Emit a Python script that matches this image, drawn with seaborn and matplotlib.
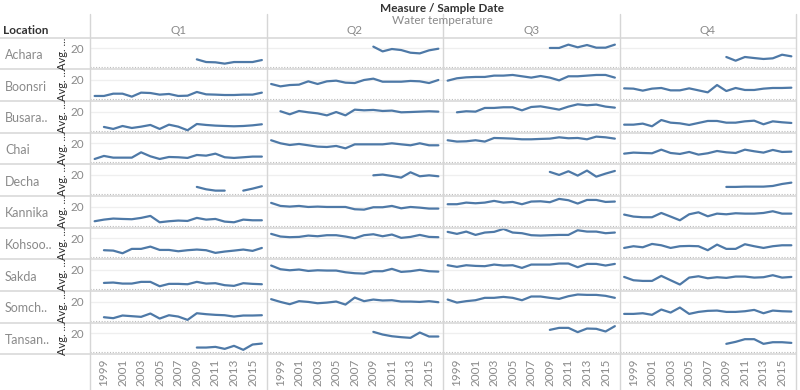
import numpy as np
import pandas as pd
import matplotlib
matplotlib.use("Agg")
import matplotlib.pyplot as plt
from matplotlib.lines import Line2D
import seaborn as sns

# ---------------- data ----------------
YEARS = list(range(1998, 2017))
LOCATIONS = ["Achara", "Boonsri", "Busara..", "Chai", "Decha",
             "Kannika", "Kohsoo..", "Sakda", "Somch..", "Tansan.."]
QUARTERS = ["Q1", "Q2", "Q3", "Q4"]
YEAR_TICKS = [1999, 2001, 2003, 2005, 2007, 2009, 2011, 2013, 2015]
N = None

q1_values = {
    "Achara":   [N]*11 + [8.4, 5.6, 5.3, 3.9, 5.6, 5.6, 5.6, 7.7],
    "Boonsri":  [3.2, 3.2, 5.6, 5.6, 2.5, 6.7, 6.3, 4.6, 5.3, 3.2, 3.5, 7.4, 4.9, 4.6, 4.2, 4.2, 4.6, 4.6, 6.7],
    "Busara..": [N, 3.9, 1.8, 4.9, 2.8, 4.2, 6.0, 1.8, 6.3, 4.2, 0.4, 7.0, 6.0, 5.3, 4.9, 4.6, 4.9, 5.6, 6.7],
    "Chai":     [3.5, 6.7, 4.9, 4.9, 4.9, 10.5, 6.3, 3.5, 5.6, 5.3, 4.6, 7.7, 7.0, 9.1, 5.3, 4.6, 5.3, 6.0, 6.0],
    "Decha":    [N]*11 + [7.4, 4.9, 3.5, 3.5, N, 3.5, 5.6, 8.1],
    "Kannika":  [4.6, 6.3, 7.4, 7.0, 6.7, 8.1, 10.2, 3.5, 4.6, 5.3, 4.9, 8.1, 6.3, 7.0, 4.2, 3.5, 6.3, 5.6, 5.6],
    "Kohsoo..": [N, 7.4, 7.0, 4.2, 8.8, 8.8, 11.2, 7.7, 7.7, 6.3, 7.4, 8.1, 7.4, 4.6, 6.0, 7.0, 8.1, 6.7, 9.8],
    "Sakda":    [N, 6.3, 6.7, 5.6, 5.6, 7.4, 7.4, 2.8, 5.3, 5.3, 4.9, 7.4, 5.6, 6.0, 3.9, 3.2, 6.0, 5.3, 4.9],
    "Somch..":  [N, 3.5, 2.5, 5.3, 4.6, 3.9, 7.4, 2.1, 5.6, 4.2, 0.7, 7.7, 6.7, 6.0, 5.6, 4.2, 5.3, 5.3, 5.6],
    "Tansan..": [N]*11 + [4.9, 4.9, 5.6, 3.5, 6.7, 2.5, 8.1, 9.1],
}
q2_values = {
    "Achara":   [N]*11 + [21.8, 16.8, 19.3, 18.2, 15.4, 14.7, 17.9, 19.6],
    "Boonsri":  [15.8, 13.3, 14.7, 15.1, 18.6, 15.8, 18.6, 19.3, 17.2, 16.8, 20.0, 21.4, 18.2, 18.2, 18.2, 19.0, 18.6, 16.8, 20.0],
    "Busara..": [N, 20.4, 17.2, 20.7, 19.3, 18.2, 16.1, 19.6, 16.1, 22.1, 21.4, 21.8, 20.7, 21.1, 19.3, 19.6, 20.0, 20.4, 20.0],
    "Chai":     [23.2, 20.0, 18.2, 19.3, 17.9, 16.5, 16.1, 17.2, 14.7, 18.9, 18.9, 18.9, 18.9, 20.0, 18.9, 17.9, 20.0, 17.9, 17.9],
    "Decha":    [N]*11 + [19.6, 20.4, 18.9, 17.2, 22.8, 18.6, 19.6, 18.6],
    "Kannika":  [23.9, 20.7, 20.0, 20.7, 19.6, 20.0, 19.6, 19.6, 19.6, 17.2, 16.8, 19.3, 19.3, 20.7, 18.2, 19.6, 18.9, 17.9, 17.9],
    "Kohsoo..": [24.6, 21.8, 21.1, 21.4, 22.8, 22.1, 23.2, 23.2, 21.8, 20.0, 23.2, 24.2, 22.1, 23.9, 20.4, 21.4, 23.5, 21.4, 21.1],
    "Sakda":    [24.6, 20.7, 19.6, 20.4, 18.9, 19.6, 19.3, 19.3, 17.5, 16.5, 16.1, 18.6, 18.6, 21.1, 17.9, 18.6, 20.0, 18.6, 18.2],
    "Somch..":  [22.5, 19.6, 17.2, 20.4, 19.6, 18.2, 18.9, 20.0, 16.8, 24.2, 20.4, 22.1, 21.1, 21.4, 20.0, 20.0, 19.6, 20.4, 19.3],
    "Tansan..": [N]*11 + [21.4, 18.6, 16.8, 15.8, 15.1, 20.7, 16.5, 16.5],
}
q3_values = {
    "Achara":   [N]*11 + [20.4, 20.4, 23.9, 21.1, 23.5, 20.7, 20.7, 23.9],
    "Boonsri":  [19.3, 21.8, 22.8, 23.2, 23.2, 24.6, 24.6, 25.3, 23.9, 22.5, 24.2, 22.5, 19.6, 23.9, 23.9, 24.6, 25.3, 25.3, 22.5],
    "Busara..": [N, 19.3, 20.4, 20.0, 23.9, 23.9, 24.6, 24.6, 21.4, 24.9, 25.6, 23.9, 22.1, 25.3, 27.7, 26.7, 27.4, 25.3, 24.2],
    "Chai":     [23.2, 21.8, 22.1, 23.2, 21.8, 25.6, 25.3, 24.9, 24.2, 24.2, 24.6, 24.9, 26.3, 25.3, 25.6, 24.2, 27.0, 26.3, 24.9],
    "Decha":    [N]*11 + [23.2, 20.0, 23.9, 19.3, 24.6, 18.2, 21.4, 24.2],
    "Kannika":  [22.5, 22.5, 24.2, 23.5, 24.2, 26.0, 24.2, 24.9, 22.5, 25.3, 25.6, 24.6, 28.1, 26.7, 23.2, 27.0, 27.0, 24.9, 25.3],
    "Kohsoo..": [26.7, 24.6, 27.0, 23.5, 26.0, 26.7, 29.8, 26.0, 25.3, 23.2, 22.8, 23.2, 23.5, 23.5, 28.4, 27.0, 27.0, 25.3, 26.0],
    "Sakda":    [24.9, 23.2, 24.9, 24.2, 23.9, 25.6, 24.6, 24.9, 22.1, 25.6, 25.6, 25.6, 26.7, 26.7, 22.8, 26.3, 26.3, 24.6, 26.3],
    "Somch..":  [22.1, 18.9, 20.4, 21.4, 23.9, 23.9, 24.9, 23.9, 21.4, 25.3, 25.3, 23.9, 22.8, 25.6, 27.4, 27.0, 27.0, 26.0, 23.9],
    "Tansan..": [N]*11 + [23.5, 25.6, 25.6, 21.1, 24.9, 24.6, 21.8, 27.4],
}
q4_values = {
    "Achara":   [N]*11 + [10.9, 7.0, 10.9, 9.8, 8.8, 9.5, 13.3, 11.6],
    "Boonsri":  [11.2, 10.9, 8.8, 10.9, 11.6, 9.1, 9.1, 11.2, 9.1, 7.0, 14.7, 8.4, 11.6, 9.5, 9.5, 10.9, 11.6, 11.6, 11.9],
    "Busara..": [6.3, 6.3, 7.4, 4.6, 11.2, 8.4, 7.7, 6.0, 8.1, 10.2, 10.2, 8.4, 8.4, 9.8, 10.5, 6.7, 9.8, 8.8, 8.1],
    "Chai":     [9.1, 10.2, 9.8, 9.5, 13.3, 9.8, 8.8, 10.9, 8.1, 9.5, 11.9, 10.5, 9.8, 13.3, 11.6, 10.2, 13.0, 10.9, 11.2],
    "Decha":    [N]*11 + [7.4, 7.4, 7.7, 7.7, 7.7, 8.4, 10.5, 11.9],
    "Kannika":  [11.6, 9.5, 8.8, 8.8, 13.3, 9.5, 5.6, 11.9, 14.0, 9.8, 12.6, 11.9, 13.0, 12.6, 12.6, 13.3, 15.1, 12.6, 12.6],
    "Kohsoo..": [9.8, 11.6, 10.5, 14.0, 12.6, 9.8, 11.6, 11.9, 11.6, 7.4, 13.3, 8.8, 8.8, 13.7, 11.6, 9.8, 11.6, 12.6, 12.6],
    "Sakda":    [12.6, 9.1, 8.4, 8.4, 13.7, 9.1, 4.6, 11.9, 13.3, 11.2, 12.3, 11.6, 13.0, 13.0, 11.9, 12.3, 14.4, 11.9, 12.6],
    "Somch..":  [7.0, 7.0, 7.7, 6.0, 11.6, 8.4, 13.7, 7.0, 9.1, 10.2, 10.5, 9.1, 9.1, 9.8, 11.2, 7.7, 10.5, 9.8, 9.5],
    "Tansan..": [N]*11 + [8.8, 10.9, 13.7, 13.7, 8.8, 10.5, 10.5, 9.8],
}
QUARTER_DATA = {"Q1": q1_values, "Q2": q2_values, "Q3": q3_values, "Q4": q4_values}

# long table; segments split at missing values so gaps stay open
records = []
for q in QUARTERS:
    for loc in LOCATIONS:
        seg = 0
        for yr, v in zip(YEARS, QUARTER_DATA[q][loc]):
            if v is None:
                seg += 1
                continue
            records.append({"Quarter": q, "Location": loc, "Year": yr,
                            "Temp": v, "Seg": seg})
df = pd.DataFrame(records)

# ---------------- style ----------------
sns.set_theme(style="white")
plt.rcParams["font.family"] = ["Lato", "DejaVu Sans"]

W, H = 800, 390
fig = plt.figure(figsize=(W / 100, H / 100), dpi=100)

COL_LEFT = [90, 266.5, 443, 619.5]
COL_W = 176.5
ROW_TOP = 37.7
ROW_H = 31.65
LINE_COLOR = "#4e79a7"
GRAY_TXT = "#8a8a8a"
SEP = "#d6d6d6"


def fx(x):
    return x / W


def fy(y):
    return 1 - y / H


for r, loc in enumerate(LOCATIONS):
    top = ROW_TOP + r * ROW_H
    for c, q in enumerate(QUARTERS):
        ax = fig.add_axes([fx(COL_LEFT[c]), fy(top + ROW_H), COL_W / W, ROW_H / H])
        sub = df[(df.Quarter == q) & (df.Location == loc)]
        ax.axhline(20, color="#efefef", lw=0.9, zorder=0)
        ax.axhline(0, color="#bdbdbd", lw=0.8, ls=(0, (1, 1.5)), zorder=0)
        sns.lineplot(data=sub, x="Year", y="Temp", units="Seg", estimator=None,
                     color=LINE_COLOR, lw=1.6, ax=ax, legend=False)
        ax.set_xlim(1997.5, 2016.5)
        ax.set_ylim(-2.1, 31.2)
        ax.set_facecolor("none")
        for s in ax.spines.values():
            s.set_visible(False)
        ax.set_xlabel("")
        ax.set_ylabel("")
        ax.set_yticks([20])
        if c == 0:
            ax.set_yticklabels(["20"], color=GRAY_TXT, fontsize=8.5)
            ax.tick_params(axis="y", length=0, pad=4)
        else:
            ax.set_yticklabels([])
            ax.tick_params(axis="y", length=0)
        if r == len(LOCATIONS) - 1:
            ax.set_xticks(YEAR_TICKS)
            ax.set_xticklabels([str(y) for y in YEAR_TICKS], rotation=90,
                               color=GRAY_TXT, fontsize=8.5)
            ax.tick_params(axis="x", length=0, pad=3)
        else:
            ax.set_xticks([])

    # row label and axis title
    cy = top + ROW_H / 2
    fig.text(fx(5), fy(cy + 1.5), loc, color=GRAY_TXT, fontsize=9,
             ha="left", va="center")
    fig.text(fx(62), fy(cy), "Avg. ...", color="#2a2a2a", fontsize=8,
             rotation=90, ha="center", va="center")

# separators
for r in range(len(LOCATIONS) + 1):
    y = ROW_TOP + r * ROW_H
    fig.add_artist(Line2D([0, fx(796)], [fy(y), fy(y)], color=SEP, lw=1.1,
                          transform=fig.transFigure))
for x in COL_LEFT + [796]:
    fig.add_artist(Line2D([fx(x), fx(x)], [fy(14), fy(390)], color=SEP, lw=1.0,
                          transform=fig.transFigure))

# headers
fig.text(fx(442), fy(8), "Measure / Sample Date", fontsize=8.5, fontweight="bold",
         color="#333333", ha="center", va="center")
fig.text(fx(442), fy(20), "Water temperature", fontsize=8.5, color=GRAY_TXT,
         ha="center", va="center")
fig.text(fx(3), fy(31), "Location", fontsize=8.5, fontweight="bold",
         color="#333333", ha="left", va="center")
for c, q in enumerate(QUARTERS):
    fig.text(fx(COL_LEFT[c] + COL_W / 2), fy(31), q, fontsize=8.5, color=GRAY_TXT,
             ha="center", va="center")

fig.savefig("out.png", dpi=100)
